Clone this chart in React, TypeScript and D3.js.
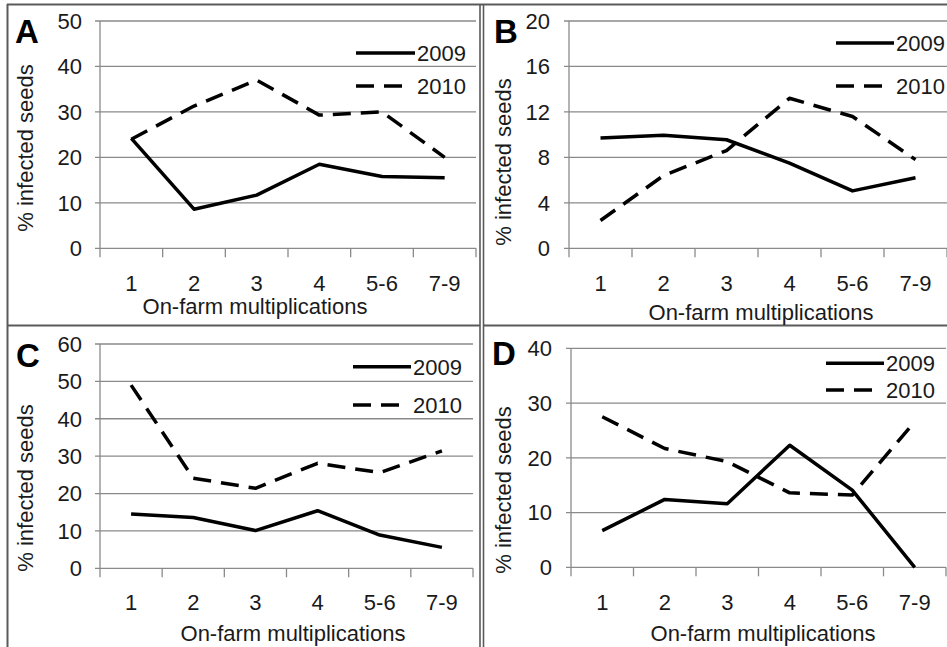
import React from "react";
import * as d3 from "d3";

// Shared categories and series
const categories = ["1", "2", "3", "4", "5-6", "7-9"];
const seriesNames = ["2009", "2010"];

// Panel A
const a2009 = [24.2, 8.6, 11.7, 18.5, 15.8, 15.5];
const a2010 = [24.0, 31.3, 37.0, 29.3, 30.0, 20.0];
const aTicks = [0, 10, 20, 30, 40, 50];

// Panel B
const b2009 = [9.7, 9.95, 9.55, 7.5, 5.05, 6.2];
const b2010 = [2.45, 6.4, 8.6, 13.2, 11.6, 7.8];
const bTicks = [0, 4, 8, 12, 16, 20];

// Panel C
const c2009 = [14.5, 13.6, 10.1, 15.4, 8.9, 5.6];
const c2010 = [49.0, 24.1, 21.4, 28.1, 25.6, 31.4];
const cTicks = [0, 10, 20, 30, 40, 50, 60];

// Panel D
const d2009 = [6.7, 12.4, 11.6, 22.3, 14.1, 0];
const d2010 = [27.5, 21.7, 19.3, 13.6, 13.2, 26.6];
const dTicks = [0, 10, 20, 30, 40];

const FONT = "'Liberation Sans', Arial, sans-serif";
const FS = 22;
const TEXT = "#1a1a1a";
const GRID = "#8a8a8a";
const FRAME = "#5a5a5a";
const DASH = "18,10";

type PanelProps = {
  letter: string;
  s2009: number[];
  s2010: number[];
  ticks: number[];
  x0: number;
  x1: number;
  yTop: number;
  yBot: number;
  letterX: number;
  letterBase: number;
  tickRight: number;
  catY: number;
  titleX: number;
  titleY: number;
  yTitleX: number;
  yTitleY: number;
  legX0: number;
  legX1: number;
  legY: number[];
};

function Panel(p: PanelProps) {
  const x = d3.scaleBand<string>().domain(categories).range([p.x0, p.x1]).padding(0);
  const y = d3
    .scaleLinear()
    .domain([0, p.ticks[p.ticks.length - 1]])
    .range([p.yBot, p.yTop]);
  const line = d3
    .line<number>()
    .x((_, i) => (x(categories[i]) as number) + x.bandwidth() / 2)
    .y((v) => y(v));
  const boundaries = categories.map((c) => x(c) as number).concat([p.x1]);
  const series = [p.s2009, p.s2010];
  return (
    <g>
      {/* horizontal gridlines with outward tick */}
      {p.ticks.map((t) => (
        <line
          key={"g" + t}
          x1={p.x0 - 5}
          x2={p.x1}
          y1={y(t)}
          y2={y(t)}
          stroke={GRID}
          strokeWidth={1.3}
        />
      ))}
      {/* y axis */}
      <line x1={p.x0} x2={p.x0} y1={p.yTop} y2={p.yBot} stroke={GRID} strokeWidth={1.3} />
      {/* x tick marks */}
      {boundaries.map((bx, i) => (
        <line key={"t" + i} x1={bx} x2={bx} y1={p.yBot} y2={p.yBot + 9} stroke={GRID} strokeWidth={1.3} />
      ))}
      {/* y tick labels */}
      {p.ticks.map((t) => (
        <text
          key={"l" + t}
          x={p.tickRight}
          y={y(t)}
          dy="0.36em"
          textAnchor="end"
          fontSize={FS}
          fontFamily={FONT}
          fill={TEXT}
        >
          {t}
        </text>
      ))}
      {/* category labels */}
      {categories.map((c) => (
        <text
          key={"c" + c}
          x={(x(c) as number) + x.bandwidth() / 2}
          y={p.catY}
          dy="0.36em"
          textAnchor="middle"
          fontSize={FS}
          fontFamily={FONT}
          fill={TEXT}
        >
          {c}
        </text>
      ))}
      {/* axis titles */}
      <text
        x={p.titleX}
        y={p.titleY}
        dy="0.36em"
        textAnchor="middle"
        fontSize={FS}
        fontFamily={FONT}
        fill={TEXT}
      >
        On-farm multiplications
      </text>
      <text
        transform={`translate(${p.yTitleX},${p.yTitleY}) rotate(-90)`}
        dy="0.36em"
        textAnchor="middle"
        fontSize={FS}
        fontFamily={FONT}
        fill={TEXT}
      >
        % infected seeds
      </text>
      {/* panel letter */}
      <text
        x={p.letterX}
        y={p.letterBase}
        fontSize={33}
        fontWeight="bold"
        fontFamily={FONT}
        fill="#000"
      >
        {p.letter}
      </text>
      {/* data lines */}
      {series.map((s, i) => (
        <path
          key={"s" + i}
          d={line(s) as string}
          fill="none"
          stroke="#000"
          strokeWidth={3.5}
          strokeDasharray={i === 1 ? DASH : undefined}
          strokeLinejoin="round"
        />
      ))}
      {/* legend */}
      {seriesNames.map((n, i) => (
        <g key={"leg" + n}>
          <line
            x1={p.legX0}
            x2={i === 1 ? p.legX0 + 46 : p.legX1}
            y1={p.legY[i]}
            y2={p.legY[i]}
            stroke="#000"
            strokeWidth={3.5}
            strokeDasharray={i === 1 ? DASH : undefined}
          />
          <text
            x={p.legX1 + 2}
            y={p.legY[i]}
            dy="0.36em"
            fontSize={FS}
            fontFamily={FONT}
            fill={TEXT}
          >
            {n}
          </text>
        </g>
      ))}
    </g>
  );
}

export default function App() {
  return (
    <div style={{ position: "absolute", left: 0, top: 0 }}>
      <svg width={947} height={647} style={{ display: "block", background: "#fff" }}>
        {/* frame */}
        <g stroke={FRAME} strokeWidth={2} fill="none">
          <line x1={7} x2={947} y1={4.5} y2={4.5} />
          <line x1={7.5} x2={7.5} y1={4} y2={647} />
          <line x1={7} x2={480} y1={325.5} y2={325.5} />
          <line x1={483.5} x2={947} y1={325.5} y2={325.5} />
          <line x1={480} x2={480} y1={4} y2={647} strokeWidth={1.6} />
          <line x1={483.5} x2={483.5} y1={4} y2={647} strokeWidth={1.6} />
        </g>
        <Panel
          letter="A"
          s2009={a2009}
          s2010={a2010}
          ticks={aTicks}
          x0={100}
          x1={476}
          yTop={21}
          yBot={248.3}
          letterX={15}
          letterBase={43}
          tickRight={82}
          catY={283}
          titleX={255}
          titleY={306}
          yTitleX={25}
          yTitleY={148}
          legX0={356}
          legX1={415}
          legY={[53, 86]}
        />
        <Panel
          letter="B"
          s2009={b2009}
          s2010={b2010}
          ticks={bTicks}
          x0={569}
          x1={947}
          yTop={21}
          yBot={248.3}
          letterX={494}
          letterBase={43}
          tickRight={550}
          catY={283}
          titleX={761}
          titleY={311.7}
          yTitleX={503}
          yTitleY={162}
          legX0={836}
          legX1={894}
          legY={[43, 86]}
        />
        <Panel
          letter="C"
          s2009={c2009}
          s2010={c2010}
          ticks={cTicks}
          x0={100}
          x1={473}
          yTop={344}
          yBot={568.3}
          letterX={16}
          letterBase={367}
          tickRight={82}
          catY={601.7}
          titleX={293}
          titleY={633}
          yTitleX={25}
          yTitleY={488}
          legX0={353}
          legX1={411}
          legY={[366.7, 405]}
        />
        <Panel
          letter="D"
          s2009={d2009}
          s2010={d2010}
          ticks={dTicks}
          x0={571}
          x1={946}
          yTop={348.3}
          yBot={567.3}
          letterX={492}
          letterBase={365}
          tickRight={552}
          catY={601.7}
          titleX={763}
          titleY={633}
          yTitleX={503}
          yTitleY={490}
          legX0={826}
          legX1={884}
          legY={[363.3, 390]}
        />
      </svg>
    </div>
  );
}
